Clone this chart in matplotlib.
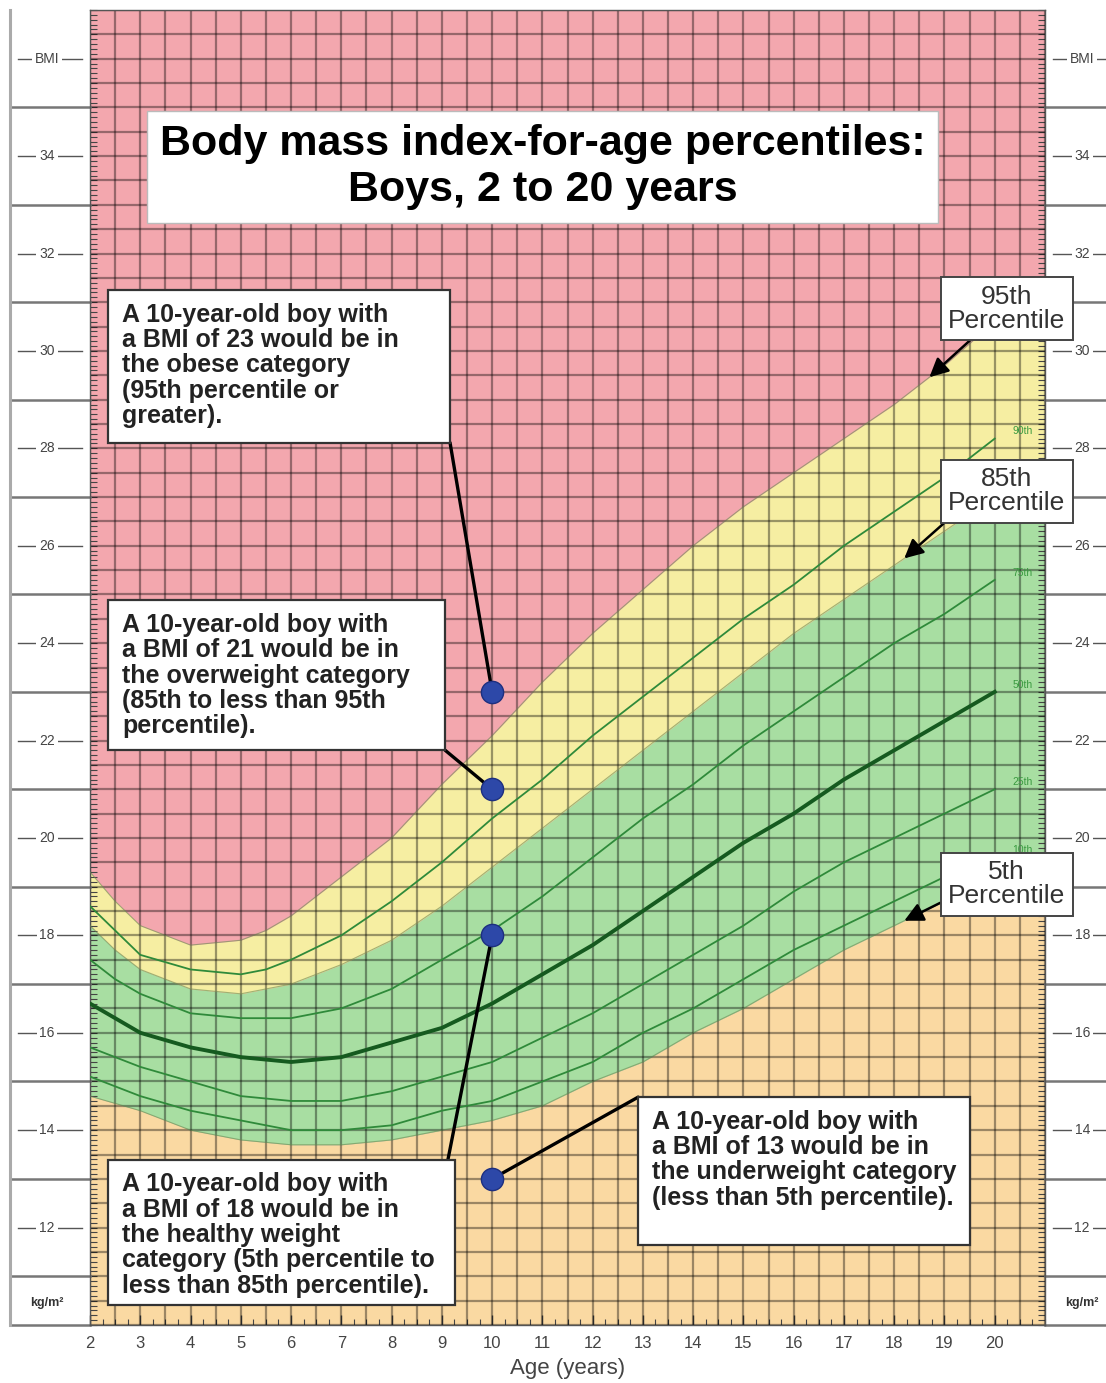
import matplotlib.pyplot as plt
import numpy as np
from matplotlib.patches import Rectangle

plt.rcParams['font.family'] = ['Liberation Sans', 'DejaVu Sans']

# BMI-for-age percentiles, boys (kg/m^2)
ages = [2, 2.5, 3, 3.5, 4, 4.5, 5, 5.5, 6, 6.5, 7, 8, 9, 10, 11, 12, 13, 14, 15, 16, 17, 18, 19, 20]
p5 = [14.7, 14.55, 14.4, 14.2, 14.0, 13.9, 13.8, 13.75, 13.7, 13.7, 13.7,
      13.8, 14.0, 14.2, 14.5, 15.0, 15.4, 16.0, 16.5, 17.1, 17.7, 18.2, 18.7, 19.1]
p10 = [15.1, 14.9, 14.7, 14.55, 14.4, 14.3, 14.2, 14.1, 14.0, 14.0, 14.0,
       14.1, 14.4, 14.6, 15.0, 15.4, 16.0, 16.5, 17.1, 17.7, 18.2, 18.7, 19.2, 19.6]
p25 = [15.7, 15.5, 15.3, 15.15, 15.0, 14.85, 14.7, 14.65, 14.6, 14.6, 14.6,
       14.8, 15.1, 15.4, 15.9, 16.4, 17.0, 17.6, 18.2, 18.9, 19.5, 20.0, 20.5, 21.0]
p50 = [16.6, 16.3, 16.0, 15.85, 15.7, 15.6, 15.5, 15.45, 15.4, 15.45, 15.5,
       15.8, 16.1, 16.6, 17.2, 17.8, 18.5, 19.2, 19.9, 20.5, 21.2, 21.8, 22.4, 23.0]
p75 = [17.5, 17.1, 16.8, 16.6, 16.4, 16.35, 16.3, 16.3, 16.3, 16.4, 16.5,
       16.9, 17.5, 18.1, 18.8, 19.6, 20.4, 21.1, 21.9, 22.6, 23.3, 24.0, 24.6, 25.3]
p85 = [18.2, 17.7, 17.3, 17.1, 16.9, 16.85, 16.8, 16.9, 17.0, 17.2, 17.4,
       17.9, 18.6, 19.4, 20.2, 21.0, 21.8, 22.6, 23.4, 24.2, 24.9, 25.6, 26.3, 27.0]
p90 = [18.6, 18.1, 17.6, 17.45, 17.3, 17.25, 17.2, 17.3, 17.5, 17.75, 18.0,
       18.7, 19.5, 20.4, 21.2, 22.1, 22.9, 23.7, 24.5, 25.2, 26.0, 26.7, 27.4, 28.2]
p95 = [19.3, 18.7, 18.2, 18.0, 17.8, 17.85, 17.9, 18.1, 18.4, 18.8, 19.2,
       20.0, 21.1, 22.1, 23.2, 24.2, 25.1, 26.0, 26.8, 27.5, 28.2, 28.9, 29.7, 30.6]

# example boys
dot_age = [10, 10, 10, 10]
dot_bmi = [23, 21, 18, 13]
notes = [
    "A 10-year-old boy with\na BMI of 23 would be in\nthe obese category\n(95th percentile or\ngreater).",
    "A 10-year-old boy with\na BMI of 21 would be in\nthe overweight category\n(85th to less than 95th\npercentile).",
    "A 10-year-old boy with\na BMI of 18 would be in\nthe healthy weight\ncategory (5th percentile to\nless than 85th percentile).",
    "A 10-year-old boy with\na BMI of 13 would be in\nthe underweight category\n(less than 5th percentile).",
]
# note boxes (x0, y0, x1, y1) in axes fraction, and where the leader leaves the box
note_box = [(0.019, 0.671, 0.377, 0.787), (0.019, 0.437, 0.372, 0.551),
            (0.019, 0.015, 0.382, 0.1255), (0.574, 0.061, 0.9215, 0.1733)]
note_rel = [(1, 0), (1, 0), (0.98, 1), (0, 1)]

bmi_labels = list(range(12, 36, 2))
age_labels = list(range(2, 21))

pink = '#f3a7ae'
yellow = '#f6eea2'
green = '#a8dea2'
tan = '#fad9a2'

fig = plt.figure(figsize=(11.06, 13.83), dpi=100)
ax = fig.add_axes([90 / 1106, 58 / 1383, 955 / 1106, 1315 / 1383])
ax.set_xlim(2, 21)
ax.set_ylim(10, 37)
ax.set_facecolor(pink)

# colour zones, carried flat to the right edge
xe = np.append(ages, 21)
ext = lambda p: np.append(p, p[-1])
ax.fill_between(xe, 10, ext(p5), color=tan, lw=0, zorder=1)
ax.fill_between(xe, ext(p5), ext(p85), color=green, lw=0, zorder=1)
ax.fill_between(xe, ext(p85), ext(p95), color=yellow, lw=0, zorder=1)

# chart grid
ax.vlines(np.arange(2, 21.01, 0.5), 10, 37, color='black', alpha=0.38, lw=1.6, zorder=2)
ax.hlines(np.arange(10, 37.01, 0.5), 2, 21, color='black', alpha=0.38, lw=1.6, zorder=2)

# percentile curves
for p in [p5, p85, p95]:
    ax.plot(ages, p, color='#6a8a50', lw=0.8, alpha=0.6, zorder=3)
for p in [p10, p25, p75, p90]:
    ax.plot(ages, p, color='#2f8a3a', lw=1.3, zorder=3)
ax.plot(ages, p50, color='#155a1f', lw=2.8, zorder=3)
for name, p in [('90th', p90), ('75th', p75), ('50th', p50), ('25th', p25), ('10th', p10)]:
    ax.text(20.55, p[-1] + 0.15, name, color='#3a9a40', fontsize=7.5, ha='center', va='center', zorder=3)

# title
ax.text(0.474, 0.8806, "Body mass index-for-age percentiles:\nBoys, 2 to 20 years", transform=ax.transAxes,
        ha='center', va='center', fontsize=31, fontweight='bold', linespacing=1.2, zorder=6,
        bbox=dict(boxstyle='square,pad=0.3', fc='white', ec='#bbbbbb', lw=1))

# example points with notes
for i in range(4):
    x0, y0, x1, y1 = note_box[i]
    ax.add_patch(Rectangle((x0, y0), x1 - x0, y1 - y0, transform=ax.transAxes, fc='white',
                           ec='#333333', lw=1.6, zorder=6))
    ax.text(x0 + 0.0147, y1 - 0.0095, notes[i], transform=ax.transAxes, ha='left', va='top',
            fontsize=18, fontweight='bold', color='#222222', linespacing=1.07, zorder=7)
    rx, ry = note_rel[i]
    ax.annotate('', xy=(dot_age[i], dot_bmi[i]), xytext=(x0 + rx * (x1 - x0), y0 + ry * (y1 - y0)),
                textcoords='axes fraction', zorder=5,
                arrowprops=dict(arrowstyle='-', color='black', lw=2.4, shrinkA=0, shrinkB=0))
ax.plot(dot_age, dot_bmi, 'o', ms=16, color='#2d48a8', mec='#1d2f80', mew=1, zorder=8)

# percentile call-outs
pct_labels = [('95th\nPercentile', p95, 18.7, (0.960, 0.773), (0.26, 0)),
              ('85th\nPercentile', p85, 18.2, (0.960, 0.634), (0.04, 0)),
              ('5th\nPercentile', p5, 18.2, (0.960, 0.335), (0, 0.2))]
for txt, p, a, pos, rel in pct_labels:
    ax.annotate(txt, xy=(a, np.interp(a, ages, p)), xytext=pos, textcoords='axes fraction',
                ha='center', va='center', fontsize=19, color='#333333', linespacing=1.0, zorder=6,
                annotation_clip=False,
                bbox=dict(boxstyle='square,pad=0.28', fc='white', ec='#444444', lw=1.4),
                arrowprops=dict(arrowstyle='-|>,head_length=0.6,head_width=0.3', color='black', lw=1.8,
                                relpos=rel, shrinkA=0, shrinkB=0))

# axes ticks
ax.set_xticks(age_labels)
ax.set_xticks(np.arange(2, 21.01, 0.25), minor=True)
ax.set_yticks([])
ax.set_yticks(np.arange(10, 37.01, 0.1), minor=True)
ax.tick_params(axis='x', which='major', direction='in', length=7, width=1, labelsize=12,
               labelcolor='#444444', pad=8, color='#444444')
ax.tick_params(axis='x', which='minor', direction='in', length=4, width=0.8, color='#444444')
ax.tick_params(axis='y', which='minor', direction='in', length=5, width=0.8, left=True, right=True, color='#444444')
ax.set_xlabel('Age (years)', fontsize=16, color='#444444', labelpad=5)
for s in ax.spines.values():
    s.set_color('#555555')
    s.set_linewidth(1)

# side rulers
yt = ax.get_yaxis_transform()
for y in range(11, 37, 2):
    ax.plot([-0.0838, 0], [y, y], transform=yt, color='#777777', lw=1.8, clip_on=False)
    ax.plot([1, 1.07], [y, y], transform=yt, color='#777777', lw=1.8, clip_on=False)
ax.plot([-0.0838, 0], [10, 10], transform=yt, color='#777777', lw=1.8, clip_on=False)
ax.plot([1, 1.07], [10, 10], transform=yt, color='#777777', lw=1.8, clip_on=False)
ax.plot([-0.0838, -0.0838], [10, 37], transform=yt, color='#aaaaaa', lw=2.2, clip_on=False)
for y in bmi_labels + ['BMI']:
    yy = 36 if y == 'BMI' else y
    for x0, x1, xc in [(-0.075, -0.008, -0.045), (1.008, 1.07, 1.039)]:
        ax.plot([x0, x1], [yy, yy], transform=yt, color='#555555', lw=1, clip_on=False)
        ax.text(xc, yy, str(y), transform=yt, ha='center', va='center', fontsize=10, color='#444444',
                bbox=dict(fc='white', ec='none', pad=2))
for xc in [-0.045, 1.039]:
    ax.text(xc, 10.45, 'kg/m²', transform=yt, ha='center', va='center', fontsize=9, fontweight='bold',
            color='#333333')

fig.savefig('out.png', dpi=100)
